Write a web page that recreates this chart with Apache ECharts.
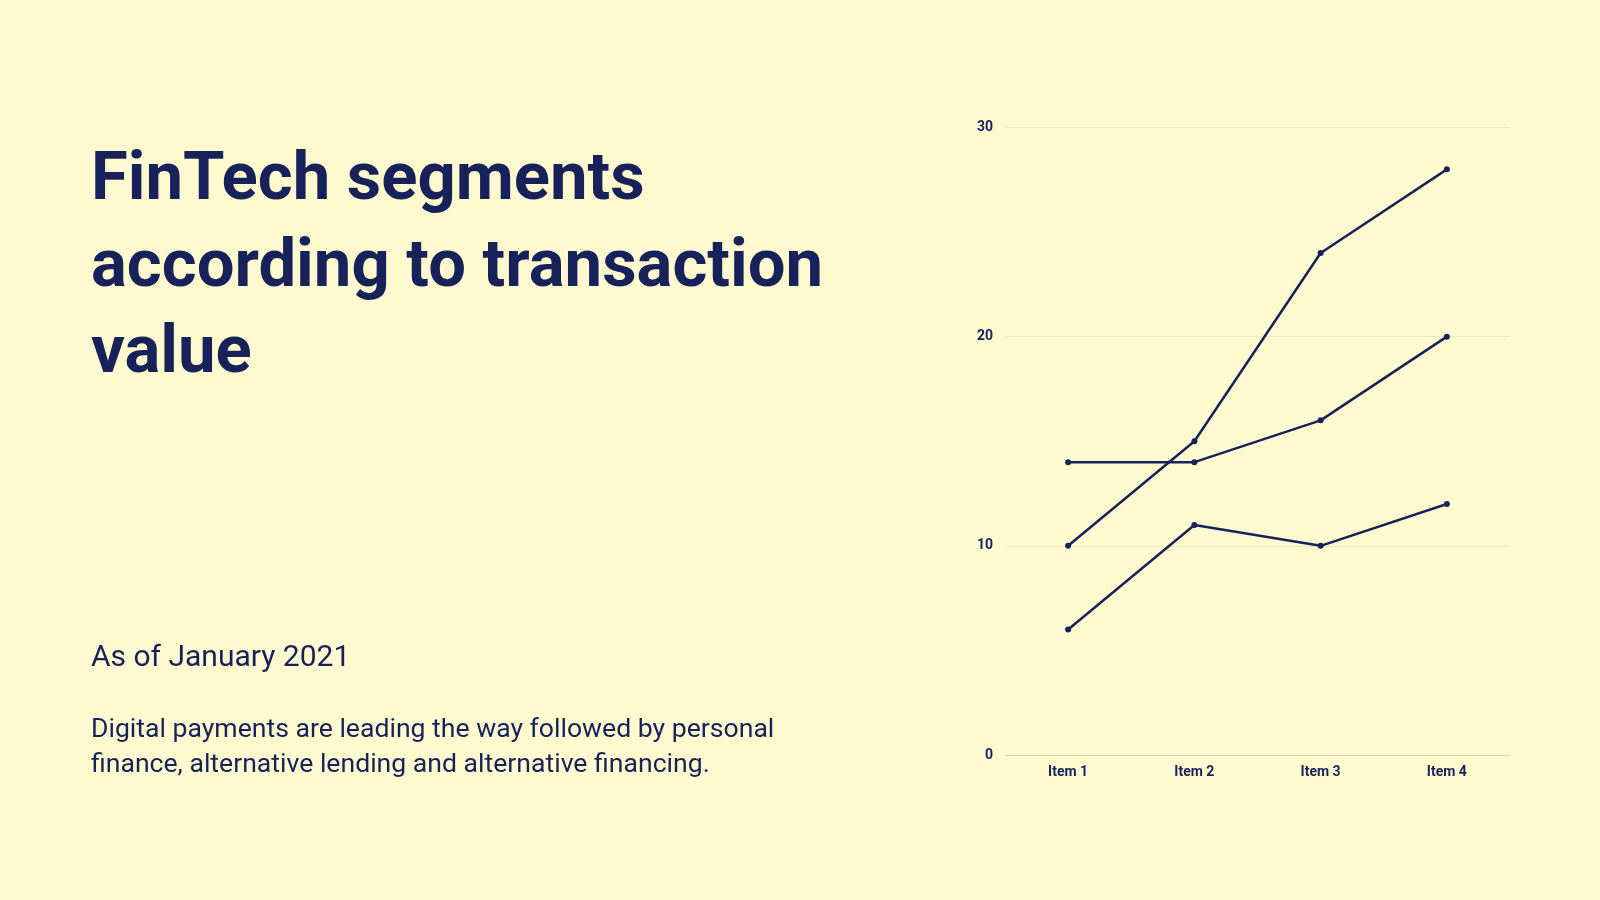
<!DOCTYPE html>
<html>
<head>
<meta charset="utf-8">
<script src="https://cdn.jsdelivr.net/npm/echarts@6/dist/echarts.min.js"></script>
<style>
  html, body { margin: 0; padding: 0; background: #FEF9CF; }
  #main { width: 1600px; height: 900px; }
</style>
</head>
<body>
<div id="main"></div>
<script>
var categories = ['Item 1', 'Item 2', 'Item 3', 'Item 4'];
var seriesA = [10, 15, 24, 28];
var seriesB = [14, 14, 16, 20];
var seriesC = [6, 11, 10, 12];
var yTicks = [0, 10, 20, 30];

var navy = '#18225A';
var myChart = echarts.init(document.getElementById('main'));

function lineSeries(name, data) {
    return {
        name: name,
        type: 'line',
        data: data,
        symbol: 'circle',
        symbolSize: 6,
        lineStyle: { color: navy, width: 2.5 },
        itemStyle: { color: navy },
        emphasis: { disabled: true }
    };
}

var option = {
    backgroundColor: '#FEF9CF',
    animation: false,
    grid: { left: 1005, right: 90, top: 127.5, bottom: 145 },
    xAxis: {
        type: 'category',
        data: categories,
        boundaryGap: true,
        axisLine: { show: true, lineStyle: { color: '#D8D5B2', width: 1 } },
        axisTick: { show: false },
        axisLabel: { color: navy, fontFamily: 'Roboto', fontWeight: 'bold', fontSize: 14, margin: 10 }
    },
    yAxis: {
        type: 'value',
        min: yTicks[0],
        max: yTicks[yTicks.length - 1],
        interval: 10,
        axisLine: { show: false },
        axisTick: { show: false },
        splitLine: { lineStyle: { color: '#ECE8C2', width: 1 } },
        axisLabel: { color: navy, fontFamily: 'Roboto', fontWeight: 'bold', fontSize: 14, margin: 12 }
    },
    series: [
        lineSeries('A', seriesA),
        lineSeries('B', seriesB),
        lineSeries('C', seriesC)
    ],
    graphic: [
        {
            type: 'text', left: 91, top: 139,
            style: {
                text: 'FinTech segments\naccording to transaction\nvalue',
                fill: navy,
                font: 'bold 67px Roboto',
                lineHeight: 86.5
            }
        },
        {
            type: 'text', left: 91, top: 640,
            style: {
                text: 'As of January 2021',
                fill: navy,
                font: '30px Roboto',
                lineHeight: 36
            }
        },
        {
            type: 'text', left: 91, top: 713,
            style: {
                text: 'Digital payments are leading the way followed by personal\nfinance, alternative lending and alternative financing.',
                fill: navy,
                font: '26.6px Roboto',
                lineHeight: 34.6
            }
        }
    ]
};
myChart.setOption(option);
</script>
</body>
</html>
